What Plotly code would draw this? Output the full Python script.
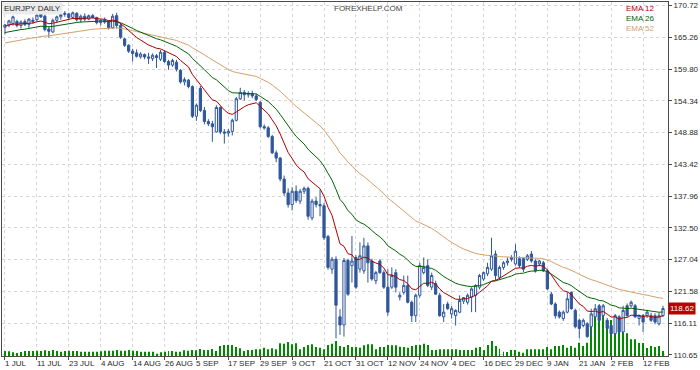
import plotly.graph_objects as go

# ---------------- data ----------------
tick_labels = ["1 JUL", "11 JUL", "23 JUL", "4 AUG", "14 AUG", "26 AUG", "5 SEP",
               "17 SEP", "29 SEP", "9 OCT", "21 OCT", "31 OCT", "12 NOV", "24 NOV",
               "4 DEC", "16 DEC", "29 DEC", "9 JAN", "21 JAN", "2 FEB", "12 FEB"]
price_ticks = [110.65, 116.11, 121.58, 127.04, 132.50, 137.96, 143.42,
               148.88, 154.34, 159.80, 165.26, 170.72]

open_ = [
    167.0, 167.4, 167.6, 168.0, 167.3, 168.0, 167.5, 168.2, 168.3, 169.3,
    168.9, 166.7, 166.2, 168.2, 168.8, 169.2, 169.3, 168.7, 169.4, 168.3,
    168.9, 168.4, 169.0, 168.7, 167.8, 168.2, 167.9, 166.9, 169.0, 167.3,
    165.0, 163.9, 162.9, 162.6, 161.9, 162.3, 161.9, 161.6, 162.1, 161.5,
    162.7, 161.1, 160.5, 161.0, 159.6, 157.6, 157.9, 156.8, 151.7, 156.5,
    152.7, 150.8, 150.4, 149.0, 153.2, 149.0, 148.8, 149.1, 151.0, 154.7,
    155.8, 155.4, 155.6, 155.2, 154.1, 149.9, 149.7, 148.2, 145.4, 144.5,
    140.9, 138.5, 136.5, 138.8, 137.1, 138.8, 139.3, 134.2, 137.1, 136.5,
    136.3, 131.0, 125.4, 127.1, 117.2, 115.8, 126.9, 126.0, 127.4, 125.4,
    125.1, 129.4, 126.8, 123.4, 126.8, 124.8, 122.3, 122.3, 124.8, 120.6,
    121.4, 122.6, 119.7, 117.4, 120.9, 124.8, 126.0, 122.3, 122.9, 120.9,
    117.2, 119.4, 117.7, 117.4, 118.0, 119.9, 119.7, 120.6, 120.9, 122.3,
    123.7, 124.6, 125.4, 128.0, 124.0, 125.7, 126.5, 127.4, 126.3, 127.2,
    127.2, 127.1, 128.0, 126.8, 126.3, 126.5, 125.1, 121.1, 119.4, 118.0,
    116.9, 118.0, 121.4, 118.3, 116.6, 115.7, 116.0, 115.5, 117.2, 119.1,
    117.4, 116.6, 115.7, 114.3, 117.2, 114.6, 119.1, 119.1, 119.1, 116.9,
    117.4, 117.4, 117.4, 117.4, 116.0, 117.4]
high = [
    167.6, 168.3, 169.0, 168.3, 168.2, 168.4, 168.6, 168.7, 169.4, 169.7,
    169.2, 167.2, 168.5, 169.0, 169.6, 169.8, 169.5, 169.7, 169.6, 169.2,
    169.4, 169.2, 169.3, 168.8, 168.4, 168.7, 168.2, 169.3, 169.5, 167.7,
    165.2, 164.1, 163.3, 163.2, 162.7, 162.5, 162.6, 162.5, 162.4, 163.1,
    163.0, 161.4, 161.6, 161.4, 159.8, 158.4, 158.1, 157.0, 153.9, 156.9,
    153.3, 151.2, 150.9, 153.6, 153.4, 149.5, 149.5, 151.3, 155.0, 156.6,
    156.2, 156.0, 156.1, 155.6, 154.3, 150.3, 150.0, 148.5, 145.8, 144.7,
    141.5, 139.3, 139.5, 139.8, 139.2, 139.6, 139.6, 137.5, 137.8, 139.1,
    136.8, 131.3, 127.5, 127.6, 118.5, 127.3, 127.2, 131.1, 127.8, 130.0,
    130.8, 130.0, 127.2, 125.1, 127.1, 125.2, 125.4, 125.7, 125.4, 121.4,
    124.3, 124.3, 120.0, 121.2, 126.5, 127.4, 127.1, 124.8, 123.4, 121.3,
    119.4, 119.8, 119.1, 118.5, 120.9, 120.6, 121.2, 122.3, 122.8, 124.6,
    125.0, 126.5, 130.8, 128.6, 126.0, 126.8, 127.4, 127.8, 129.7, 127.6,
    127.5, 128.0, 128.5, 127.1, 127.0, 126.8, 125.4, 121.5, 119.7, 118.3,
    118.3, 121.4, 121.6, 118.6, 116.9, 116.9, 116.3, 118.6, 119.4, 119.4,
    119.4, 117.0, 116.0, 117.7, 117.5, 119.1, 119.5, 120.0, 119.4, 117.6,
    117.7, 118.4, 117.9, 117.8, 117.9, 119.1]
low = [
    165.8, 167.0, 167.3, 167.0, 166.8, 167.2, 166.9, 167.6, 168.1, 168.6,
    166.3, 165.2, 166.0, 167.8, 168.3, 168.8, 168.4, 168.5, 168.0, 167.8,
    168.1, 168.2, 168.5, 167.5, 167.3, 167.6, 166.6, 166.7, 166.8, 165.0,
    163.6, 162.6, 161.1, 161.8, 161.6, 161.5, 160.7, 161.2, 160.0, 161.2,
    160.9, 159.7, 160.2, 159.4, 157.3, 157.0, 156.5, 151.4, 150.9, 152.4,
    150.3, 150.0, 147.3, 148.9, 148.6, 147.0, 148.2, 148.4, 150.8, 154.5,
    154.4, 154.9, 154.8, 154.3, 149.6, 149.4, 148.0, 145.2, 143.8, 140.5,
    138.0, 136.0, 135.5, 136.8, 136.6, 138.3, 133.9, 133.8, 136.0, 134.5,
    130.4, 125.3, 124.6, 113.5, 114.1, 113.8, 120.8, 123.1, 122.0, 124.8,
    124.6, 123.1, 123.4, 122.8, 124.6, 122.0, 117.4, 122.0, 121.4, 120.0,
    121.0, 119.5, 116.3, 116.3, 120.5, 124.5, 122.3, 121.8, 121.0, 117.2,
    116.3, 118.4, 116.9, 115.7, 117.8, 119.4, 119.3, 118.0, 118.0, 121.9,
    123.4, 124.2, 125.1, 123.5, 123.6, 125.3, 126.0, 126.7, 126.0, 125.6,
    124.9, 126.8, 126.5, 124.8, 125.9, 124.9, 121.8, 119.2, 116.9, 116.9,
    116.5, 117.8, 118.4, 115.2, 113.5, 115.4, 113.6, 113.8, 117.0, 116.3,
    117.0, 115.0, 114.0, 114.0, 114.4, 114.3, 117.2, 118.8, 117.0, 115.7,
    114.6, 117.0, 116.3, 115.9, 115.7, 117.2]
close = [
    167.4, 168.1, 168.8, 167.3, 167.9, 167.5, 168.4, 168.0, 169.1, 168.8,
    166.6, 166.3, 168.2, 168.8, 169.2, 169.4, 168.7, 169.5, 168.3, 168.9,
    168.4, 169.0, 168.7, 167.8, 168.2, 167.9, 166.9, 168.9, 167.3, 165.3,
    163.9, 162.9, 162.5, 162.0, 162.4, 161.9, 161.7, 162.2, 161.8, 162.7,
    161.1, 160.5, 161.3, 159.8, 157.6, 158.0, 156.8, 151.7, 153.6, 152.7,
    150.8, 150.4, 149.9, 153.2, 149.0, 148.8, 149.1, 151.0, 154.7, 155.8,
    155.4, 155.6, 155.2, 154.6, 149.9, 149.7, 148.2, 145.4, 144.5, 140.9,
    138.5, 136.5, 138.8, 137.2, 138.8, 139.3, 134.5, 137.1, 136.5, 136.3,
    130.8, 125.7, 127.1, 119.2, 115.8, 126.9, 121.1, 126.8, 122.3, 127.7,
    129.4, 126.5, 123.7, 124.8, 124.8, 122.3, 118.0, 124.3, 122.3, 120.9,
    122.6, 119.7, 117.4, 120.9, 126.0, 125.7, 122.6, 124.3, 121.1, 117.4,
    118.0, 118.6, 118.6, 118.3, 120.0, 120.5, 120.9, 122.0, 122.6, 124.3,
    124.8, 125.7, 127.7, 124.3, 125.7, 126.5, 126.8, 127.1, 128.5, 126.0,
    125.4, 127.7, 126.8, 125.1, 126.8, 125.1, 122.0, 119.4, 117.4, 117.2,
    118.0, 120.3, 118.6, 115.5, 115.2, 116.6, 113.8, 117.7, 118.6, 116.6,
    119.1, 115.2, 114.3, 117.4, 114.6, 118.3, 117.4, 119.7, 117.2, 117.4,
    116.3, 118.0, 116.6, 116.3, 117.4, 118.62]
volume = [
    5000, 4700, 3700, 3000, 4000, 5000, 5000, 5000, 5300, 5000,
    5700, 5000, 6000, 5000, 4300, 5000, 5300, 5000, 5000, 4300,
    4300, 4300, 4300, 4300, 4700, 5300, 5300, 5300, 6000, 5300,
    5300, 6000, 5300, 5000, 4300, 4300, 4300, 4300, 2300, 3700,
    4300, 5000, 5000, 4300, 4300, 5700, 5300, 6000, 5700, 7000,
    6000, 6000, 7000, 5000, 10000, 11000, 11000, 11000, 9000, 7700,
    5000, 6000, 6000, 6700, 6700, 8300, 6700, 7700, 6700, 12700,
    12300, 14000, 11700, 12700, 6700, 9000, 11000, 11700, 9000, 8300,
    6700, 11000, 12300, 15000, 10000, 9000, 11000, 9000, 9000, 8300,
    10700, 11700, 11700, 6700, 9000, 9000, 11000, 10700, 10700, 9300,
    9000, 8300, 10000, 11000, 11000, 12300, 11000, 6000, 6000, 6700,
    6700, 6700, 6700, 6700, 6000, 6000, 6000, 6000, 8300, 9000,
    6000, 11000, 15000, 10000, 7300, 4300, 4000, 6000, 6000, 4300,
    3300, 6700, 6700, 6700, 6700, 6700, 9000, 6700, 10000, 10000,
    11000, 8300, 10000, 8300, 13300, 10000, 13300, 41000, 42700, 42700,
    41000, 36000, 36000, 32700, 37700, 40000, 22700, 16700, 16700, 13000,
    13000, 8000, 10000, 9000, 10000, 5000]

# EMA values at the first visible bar
ema_seeds = {12: 167.2, 26: 166.1, 52: 164.3}
ema_colors = {12: "#aa0000", 26: "#006400", 52: "#d4a06a"}
legend_colors = {12: "#b00000", 26: "#006400", 52: "#d2a070"}

# ---------------- figure ----------------
n = len(close)
x = list(range(n))
tick_pos = list(range(0, 8 * len(tick_labels), 8))


def ema(vals, period, seed):
    k = 2.0 / (period + 1)
    out = [seed]
    for v in vals[1:]:
        out.append(out[-1] + k * (v - out[-1]))
    return out


BLUE = "#30579a"
GREEN = "#008a00"
GRID = "#d6d6d6"
AXIS = "#4a4a4a"
FONT = "Liberation Sans"
TXT = "#2a2a2a"

fig = go.Figure()

fig.add_trace(go.Bar(x=x, y=volume, width=0.25, marker=dict(color=GREEN, line=dict(width=0)),
                     xaxis="x", yaxis="y", hoverinfo="skip"))

fig.add_trace(go.Candlestick(
    x=x, open=open_, high=high, low=low, close=close,
    xaxis="x", yaxis="y2", whiskerwidth=0,
    increasing=dict(line=dict(color=BLUE, width=1), fillcolor="#ffffff"),
    decreasing=dict(line=dict(color=BLUE, width=1), fillcolor=BLUE),
))

for p in (52, 26, 12):
    fig.add_trace(go.Scatter(x=x, y=ema(close, p, ema_seeds[p]), mode="lines",
                             line=dict(color=ema_colors[p], width=1),
                             xaxis="x", yaxis="y2", hoverinfo="skip"))

annotations = []
for pos, lab in zip(tick_pos, tick_labels):
    annotations.append(dict(x=pos, y=0, xref="x", yref="paper", text=lab,
                            showarrow=False, xanchor="left", yanchor="top",
                            xshift=-2, yshift=-1, font=dict(family=FONT, size=8, color=TXT)))

annotations.append(dict(x=0, y=1, xref="paper", yref="paper", text="EURJPY DAILY",
                        showarrow=False, xanchor="left", yanchor="top", bgcolor="#ebebeb",
                        borderpad=1, font=dict(family=FONT, size=8, color=TXT)))
annotations.append(dict(x=0.551, y=1, xref="paper", yref="paper", text="FOREXHELP.COM",
                        showarrow=False, xanchor="center", yanchor="top",
                        font=dict(family=FONT, size=8, color="#444444")))
for k, p in enumerate((12, 26, 52)):
    annotations.append(dict(x=0.983, y=1, xref="paper", yref="paper", text=f"EMA {p}",
                            showarrow=False, xanchor="right", yanchor="top", yshift=-10 * k,
                            font=dict(family=FONT, size=8, color=legend_colors[p])))
annotations.append(dict(x=1, y=close[-1], xref="paper", yref="y2", text=f"{close[-1]:.2f}",
                        showarrow=False, xanchor="left", yanchor="middle", bgcolor="#bb0000",
                        borderpad=1, font=dict(family=FONT, size=8, color="#ffffff")))

fig.update_layout(
    width=700, height=370,
    margin=dict(l=1, r=31, t=1, b=14),
    paper_bgcolor="#ffffff", plot_bgcolor="#ffffff",
    showlegend=False,
    boxgap=0.3, boxgroupgap=0.2,
    xaxis=dict(range=[-0.75, n + 0.25], tickvals=tick_pos, ticktext=[""] * len(tick_pos),
               ticks="outside", ticklen=3, tickcolor=AXIS, showgrid=True, gridcolor=GRID,
               griddash="3px,3px", gridwidth=1, showline=True, linecolor=AXIS, linewidth=1,
               mirror=True, zeroline=False, rangeslider=dict(visible=False)),
    yaxis=dict(range=[0, 355000], visible=False, fixedrange=True),
    yaxis2=dict(overlaying="y", side="right", range=[110.46, 171.35],
                tickvals=price_ticks, ticktext=[f"{v:.2f}" for v in price_ticks],
                ticks="outside", ticklen=3, tickcolor=AXIS, showgrid=True, gridcolor=GRID,
                griddash="3px,3px", gridwidth=1, showline=True, linecolor=AXIS, linewidth=1,
                mirror=True, zeroline=False,
                tickfont=dict(family=FONT, size=8, color=TXT)),
    annotations=annotations,
)

fig.write_html("out.html", config={"displayModeBar": False},
               post_script="document.body.style.margin='0';document.body.style.overflow='hidden';")
